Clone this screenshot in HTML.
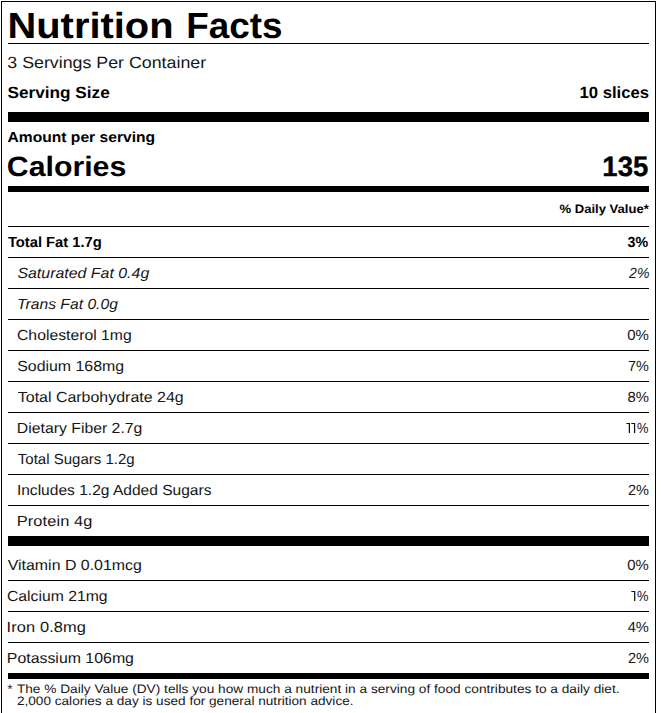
<!DOCTYPE html>
<html><head><meta charset="utf-8"><title>Nutrition Facts</title>
<style>
html,body{margin:0;padding:0;background:#fff;}
body{width:661px;height:713px;overflow:hidden;position:relative;font-family:"Liberation Sans",sans-serif;color:#000;text-rendering:geometricPrecision;}
.box{position:absolute;left:1px;top:1px;width:653px;height:730px;border:1px solid #000;}
.r{position:absolute;background:#000;}
.t{position:absolute;white-space:nowrap;line-height:1;display:block;}
.l{transform-origin:0 100%;}
.rt{transform-origin:100% 100%;}
.b{font-weight:bold;} .n{color:#161616;} .i{font-style:italic;}
</style></head><body>
<div class="box"></div>
<div class="r" style="left:8px;top:43px;width:641px;height:1px"></div>
<div class="r" style="left:8px;top:112px;width:641px;height:10px"></div>
<div class="r" style="left:8px;top:186px;width:641px;height:6px"></div>
<div class="r" style="left:8px;top:226px;width:641px;height:1px"></div>
<div class="r" style="left:8px;top:257px;width:641px;height:1px"></div>
<div class="r" style="left:8px;top:288px;width:641px;height:1px"></div>
<div class="r" style="left:8px;top:319px;width:641px;height:1px"></div>
<div class="r" style="left:8px;top:350px;width:641px;height:1px"></div>
<div class="r" style="left:8px;top:381px;width:641px;height:1px"></div>
<div class="r" style="left:8px;top:412px;width:641px;height:1px"></div>
<div class="r" style="left:8px;top:443px;width:641px;height:1px"></div>
<div class="r" style="left:8px;top:474px;width:641px;height:1px"></div>
<div class="r" style="left:8px;top:505px;width:641px;height:1px"></div>
<div class="r" style="left:8px;top:536px;width:641px;height:10px"></div>
<div class="r" style="left:8px;top:580px;width:641px;height:1px"></div>
<div class="r" style="left:8px;top:611px;width:641px;height:1px"></div>
<div class="r" style="left:8px;top:642px;width:641px;height:1px"></div>
<div class="r" style="left:8px;top:673px;width:641px;height:6px"></div>
<div class="t l b" style="font-size:36.3px;top:8.00px;left:7px;transform:translateX(0.49px) scaleX(1.0981);">Nutrition</div>
<div class="t l b" style="font-size:36.3px;top:8.00px;left:186px;transform:translateX(0.21px) scaleX(1.0145);">Facts</div>
<div class="t l n" style="font-size:16.3px;top:55.00px;left:7px;transform:translateX(0.29px) scaleX(1.0931);">3 Servings Per Container</div>
<div class="t l b" style="font-size:16.3px;top:85.00px;left:7px;transform:translateX(0.51px) scaleX(1.0556);">Serving Size</div>
<div class="t rt b" style="font-size:16.3px;top:85.00px;right:12px;transform:translateX(0.08px) scaleX(1.0231);">10 slices</div>
<div class="t l b" style="font-size:14.65px;top:131.00px;left:7px;transform:translateX(0.49px) scaleX(1.0675);">Amount per serving</div>
<div class="t l b" style="font-size:28.0px;top:153.00px;left:6px;transform:translateX(0.83px) scaleX(1.0810);">Calories</div>
<div class="t rt b" style="font-size:28.0px;top:153.00px;-webkit-text-stroke:0.35px #000;right:13px;transform:translateX(0.54px) scaleX(0.9831);">135</div>
<div class="t rt b" style="font-size:12.2px;top:203.00px;right:13px;transform:translateX(0.52px) scaleX(1.0727);">% Daily Value*</div>
<div class="t l b" style="font-size:14.65px;top:236.00px;left:7px;transform:translateX(0.90px) scaleX(1.0068);">Total Fat 1.7g</div>
<div class="t rt b" style="font-size:14.65px;top:236.00px;right:13px;transform:translateX(0.07px) scaleX(0.9756);">3%</div>
<div class="t l n i" style="font-size:14.65px;top:267.00px;left:17px;transform:translateX(0.39px) scaleX(1.0873);">Saturated Fat 0.4g</div>
<div class="t rt n i" style="font-size:14.65px;top:267.00px;right:12px;transform:translateX(0.31px) scaleX(0.9626);">2%</div>
<div class="t l n i" style="font-size:14.65px;top:298.00px;left:17px;transform:translateX(0.08px) scaleX(1.0714);">Trans Fat 0.0g</div>
<div class="t l n" style="font-size:14.65px;top:329.00px;left:16px;transform:translateX(0.99px) scaleX(1.0763);">Cholesterol 1mg</div>
<div class="t rt n" style="font-size:14.65px;top:329.00px;right:13px;transform:translateX(0.70px) scaleX(1.0242);">0%</div>
<div class="t l n" style="font-size:14.65px;top:360.00px;left:17px;transform:translateX(0.23px) scaleX(1.0845);">Sodium 168mg</div>
<div class="t rt n" style="font-size:14.65px;top:360.00px;right:13px;transform:translateX(0.70px) scaleX(0.9841);">7%</div>
<div class="t l n" style="font-size:14.65px;top:391.00px;left:17px;transform:translateX(0.78px) scaleX(1.0898);">Total Carbohydrate 24g</div>
<div class="t rt n" style="font-size:14.65px;top:391.00px;right:13px;transform:translateX(0.70px) scaleX(1.0127);">8%</div>
<div class="t l n" style="font-size:14.65px;top:422.00px;left:16px;transform:translateX(0.80px) scaleX(1.0791);">Dietary Fiber 2.7g</div>
<div class="t rt n" style="font-size:14.65px;top:422.00px;right:13px;transform:translateX(0.32px) scaleX(0.8769);">%</div>
<div class="t l n" style="font-size:14.65px;top:453.00px;left:17px;transform:translateX(0.82px) scaleX(1.0258);">Total Sugars 1.2g</div>
<div class="t l n" style="font-size:14.65px;top:484.00px;left:16px;transform:translateX(0.90px) scaleX(1.0624);">Includes 1.2g Added Sugars</div>
<div class="t rt n" style="font-size:14.65px;top:484.00px;right:13px;transform:translateX(0.74px) scaleX(0.9910);">2%</div>
<div class="t l n" style="font-size:14.65px;top:515.00px;letter-spacing:0.105px;left:16px;transform:translateX(0.67px) scaleX(1.1200);">Protein 4g</div>
<div class="t l n" style="font-size:14.65px;top:559.00px;left:7px;transform:translateX(0.74px) scaleX(1.0863);">Vitamin D 0.01mcg</div>
<div class="t rt n" style="font-size:14.65px;top:559.00px;right:13px;transform:translateX(0.64px) scaleX(1.0171);">0%</div>
<div class="t l n" style="font-size:14.65px;top:590.00px;left:6px;transform:translateX(1.00px) scaleX(1.0751);">Calcium 21mg</div>
<div class="t rt n" style="font-size:14.65px;top:590.00px;right:13px;transform:translateX(0.32px) scaleX(0.8769);">%</div>
<div class="t l n" style="font-size:14.65px;top:621.00px;letter-spacing:0.094px;left:6px;transform:translateX(0.61px) scaleX(1.1200);">Iron 0.8mg</div>
<div class="t rt n" style="font-size:14.65px;top:621.00px;right:13px;transform:translateX(0.61px) scaleX(0.9988);">4%</div>
<div class="t l n" style="font-size:14.65px;top:652.00px;left:6px;transform:translateX(0.79px) scaleX(1.0851);">Potassium 106mg</div>
<div class="t rt n" style="font-size:14.65px;top:652.00px;right:13px;transform:translateX(0.74px) scaleX(0.9910);">2%</div>
<div class="t l n" style="font-size:12.2px;top:683.00px;letter-spacing:1.497px;left:7px;transform:translateX(0.22px) scaleX(1.1200);">*</div>
<div class="t l n" style="font-size:12.2px;top:683.00px;letter-spacing:0.011px;left:16px;transform:translateX(0.91px) scaleX(1.1200);">The % Daily Value (DV) tells you how much a nutrient in a serving of food contributes to a daily diet.</div>
<div class="t l n" style="font-size:12.2px;top:695.00px;left:16px;transform:translateX(0.91px) scaleX(1.1166);">2,000 calories a day is used for general nutrition advice.</div>
<svg width="661" height="713" style="position:absolute;left:0;top:0" fill="#111"><path d="M626.40 422.90H630.00V433H628.75V424.05H626.40Z"/><path d="M631.30 422.90H635.20V433H633.95V424.05H631.30Z"/><path d="M631.30 590.90H635.30V601H634.05V592.05H631.30Z"/></svg>
</body></html>
